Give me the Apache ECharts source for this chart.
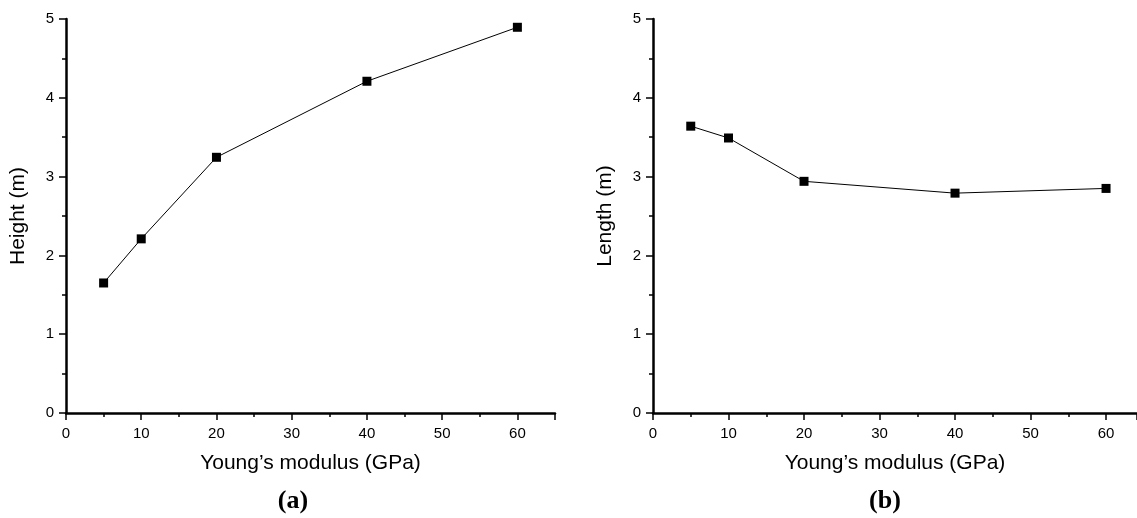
<!DOCTYPE html>
<html><head><meta charset="utf-8">
<script src="https://cdn.jsdelivr.net/npm/echarts@6/dist/echarts.min.js"></script>
<style>html,body{margin:0;padding:0;background:#fff}#c{width:1137px;height:518px}</style>
</head><body><div id="c"></div>
<script>
const modulus = [5, 10, 20, 40, 60];
const heightVals = [1.65, 2.21, 3.245, 4.21, 4.895];
const lengthVals = [3.64, 3.49, 2.94, 2.79, 2.85];
const xTicks = [0, 10, 20, 30, 40, 50, 60];
const yTicks = [0, 1, 2, 3, 4, 5];
const panelLabels = ['(a)', '(b)'];
const yNames = ['Height (m)', 'Length (m)'];
const xName = 'Young\u2019s modulus (GPa)';

const font = 'Liberation Sans, Arial, sans-serif';
function xAxis(i, max) {
  return {
    gridIndex: i, type: 'value', min: 0, max: max, interval: 10,
    name: xName, nameLocation: 'middle', nameGap: 40,
    nameTextStyle: {fontFamily: font, fontSize: 21, color: '#000'},
    axisLine: {onZero: false, lineStyle: {color: '#000', width: 2.5}},
    axisTick: {show: true, inside: false, length: 7, lineStyle: {color: '#000', width: 1.5}},
    minorTick: {show: true, splitNumber: 2, length: 4, lineStyle: {color: '#000', width: 1.5}},
    axisLabel: {margin: 13, fontFamily: font, fontSize: 15, color: '#000', showMaxLabel: max === 65,
      formatter: v => xTicks.includes(v) ? String(v) : ''},
    splitLine: {show: false}
  };
}
function yAxis(i) {
  return {
    gridIndex: i, type: 'value', min: 0, max: 5, interval: 1,
    name: yNames[i], nameLocation: 'middle', nameGap: 37, nameRotate: 90,
    nameTextStyle: {fontFamily: font, fontSize: 21, color: '#000'},
    axisLine: {onZero: false, lineStyle: {color: '#000', width: 2.5}},
    axisTick: {show: true, inside: false, length: 7, lineStyle: {color: '#000', width: 1.5}},
    minorTick: {show: true, splitNumber: 2, length: 4, lineStyle: {color: '#000', width: 1.5}},
    axisLabel: {margin: 12, fontFamily: font, fontSize: 15, color: '#000',
      formatter: v => yTicks.includes(v) ? String(v) : ''},
    splitLine: {show: false}
  };
}
function series(i, vals) {
  return {
    type: 'line', xAxisIndex: i, yAxisIndex: i,
    data: modulus.map((m, k) => [m, vals[k]]),
    symbol: 'rect', symbolSize: 9, showSymbol: true,
    itemStyle: {color: '#000'},
    lineStyle: {color: '#000', width: 1},
    animation: false
  };
}
const chart = echarts.init(document.getElementById('c'), null, {renderer: 'canvas'});
chart.setOption({
  backgroundColor: '#fff',
  animation: false,
  grid: [
    {left: 66, width: 489, top: 19, height: 394},
    {left: 653, right: 0, top: 19, height: 394}
  ],
  xAxis: [xAxis(0, 65), xAxis(1, 64.1)],
  yAxis: [yAxis(0), yAxis(1)],
  series: [series(0, heightVals), series(1, lengthVals)],
  graphic: [
    {type: 'text', x: 293, y: 501, style: {text: panelLabels[0], font: 'bold 26px "Liberation Serif", "Times New Roman", serif', fill: '#000', align: 'center', verticalAlign: 'middle'}},
    {type: 'text', x: 885, y: 501, style: {text: panelLabels[1], font: 'bold 26px "Liberation Serif", "Times New Roman", serif', fill: '#000', align: 'center', verticalAlign: 'middle'}}
  ]
});
</script></body></html>
